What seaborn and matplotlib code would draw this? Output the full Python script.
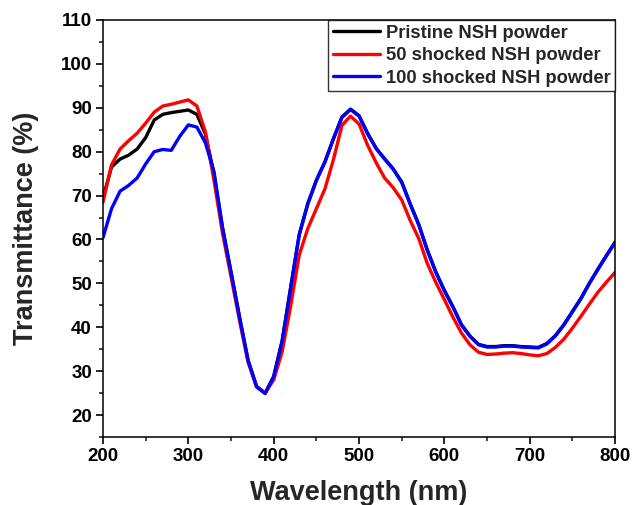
import seaborn as sns
import matplotlib.pyplot as plt
import numpy as np
import pandas as pd

sns.set_style("ticks")
plt.rcParams["font.family"] = ["Liberation Sans", "DejaVu Sans"]
plt.rcParams["font.weight"] = "bold"

# wavelength grid (nm)
wavelength = list(range(200, 801, 10))

# transmittance (%)
pristine = [69.5, 76.5, 78.3, 79.2, 80.6, 83.2, 87.2, 88.5, 88.9, 89.2,
            89.5, 88.5, 84.0, 75.0, 62.8, 52.6, 42.3, 32.5, 26.5, 25.0,
            28.8, 37.0, 49.2, 61.2, 68.2, 73.5, 77.7, 83.0, 87.9, 89.7,
            88.2, 84.2, 80.8, 78.4, 76.1, 73.1, 68.1, 63.4, 57.6, 52.6,
            48.4, 44.7, 40.6, 38.0, 36.1, 35.6, 35.6, 35.8, 35.8, 35.6,
            35.5, 35.4, 36.3, 38.1, 40.6, 43.6, 46.6, 50.1, 53.3, 56.4, 59.4]
shocked_50 = [68.5, 77.0, 80.6, 82.5, 84.2, 86.5, 89.0, 90.4, 90.8, 91.3,
              91.8, 90.4, 84.5, 73.5, 61.5, 51.5, 41.5, 32.0, 26.5, 25.0,
              28.0, 34.5, 45.0, 56.5, 62.5, 67.0, 71.5, 78.2, 86.0, 88.1,
              86.3, 81.5, 77.5, 74.0, 71.8, 69.0, 64.3, 60.2, 54.5, 50.2,
              46.3, 42.3, 38.7, 36.0, 34.3, 33.8, 33.9, 34.1, 34.2, 34.0,
              33.7, 33.5, 34.0, 35.4, 37.3, 39.8, 42.5, 45.3, 48.0, 50.3, 52.5]
shocked_100 = [60.4, 67.0, 71.0, 72.3, 74.0, 77.2, 80.0, 80.5, 80.3, 83.5,
               86.1, 85.6, 82.0, 75.5, 62.6, 52.5, 42.2, 32.4, 26.4, 24.9,
               28.7, 36.9, 49.1, 61.1, 68.1, 73.4, 77.6, 82.9, 87.8, 89.6,
               88.1, 84.1, 80.7, 78.3, 76.0, 73.0, 68.0, 63.3, 57.5, 52.5,
               48.3, 44.6, 40.5, 37.9, 36.0, 35.5, 35.5, 35.7, 35.7, 35.5,
               35.4, 35.3, 36.2, 38.0, 40.5, 43.5, 46.5, 50.0, 53.2, 56.3, 59.3]

labels = ["Pristine NSH powder", "50 shocked NSH powder", "100 shocked NSH powder"]
colors = ["#000000", "#ff0000", "#0000ff"]

df = pd.DataFrame({
    "wavelength": wavelength * 3,
    "T": pristine + shocked_50 + shocked_100,
    "sample": [labels[0]] * len(wavelength) + [labels[1]] * len(wavelength)
              + [labels[2]] * len(wavelength),
})

fig = plt.figure(figsize=(6.33, 5.05), dpi=100)
ax = fig.add_axes([0.1627, 0.1347, 0.809, 0.8257])

sns.lineplot(data=df, x="wavelength", y="T", hue="sample", hue_order=labels,
             palette=colors, linewidth=2.4, ax=ax, legend=False)

ax.set_xlim(200, 800)
ax.set_ylim(15, 110)
ax.set_xticks(range(200, 801, 100))
ax.set_yticks(range(20, 111, 10))
ax.set_xticks(range(250, 800, 100), minor=True)
ax.set_yticks(range(15, 110, 10), minor=True)
ax.tick_params(axis="both", which="major", direction="out", length=5, width=1.2,
               labelsize=13.5, colors="black", pad=3)
ax.tick_params(axis="both", which="minor", direction="out", length=3, width=1.2)
for lab in ax.get_xticklabels() + ax.get_yticklabels():
    lab.set_fontweight("bold")

for s in ax.spines.values():
    s.set_visible(True)
    s.set_color("black")
    s.set_linewidth(1.1)

ax.set_xlabel("Wavelength (nm)", fontsize=19.5, fontweight="bold", labelpad=11)
ax.set_ylabel("Transmittance (%)", fontsize=19.5, fontweight="bold", labelpad=16)

handles = [plt.Line2D([], [], color=c, linewidth=2.4) for c in colors]
leg = ax.legend(handles, labels, loc="upper right", borderaxespad=0,
                prop={"size": 13.2, "weight": "bold"}, frameon=True, fancybox=False,
                handlelength=2.6, handletextpad=0.3, labelspacing=0.3,
                borderpad=0.25)
leg.get_frame().set_edgecolor("black")
leg.get_frame().set_linewidth(1.0)

fig.savefig("out.png", dpi=100)
plt.close(fig)
